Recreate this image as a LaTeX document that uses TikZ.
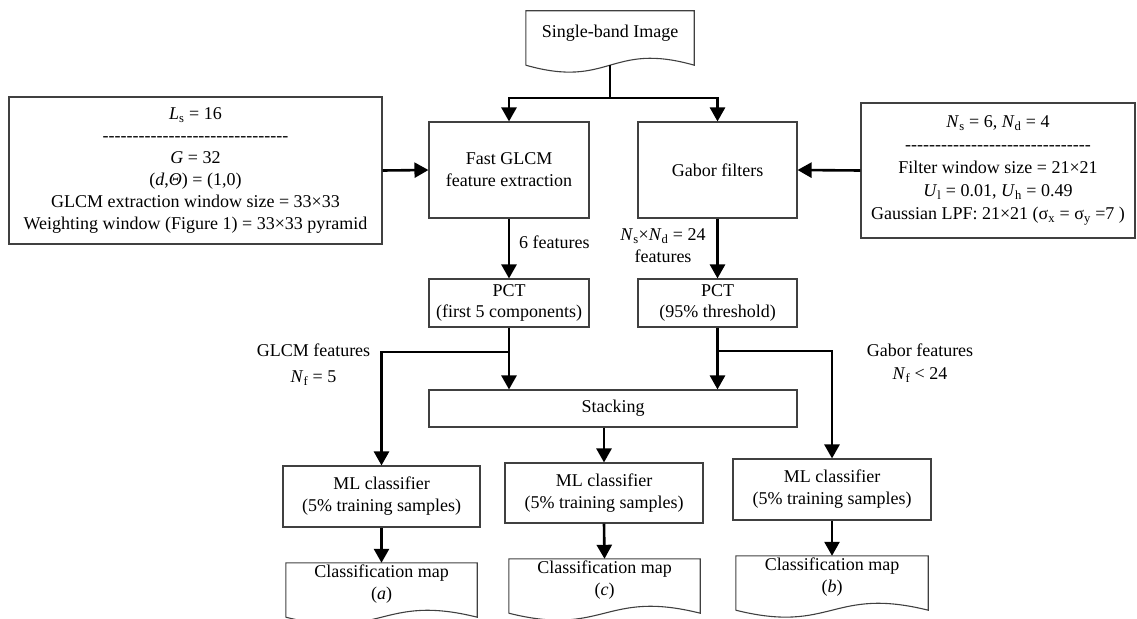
\documentclass[tikz,border=0pt]{standalone}
\usepackage{fontspec}
\setmainfont{Liberation Serif}
\usetikzlibrary{arrows.meta,calc}
\newcommand\hyf{-\kern0pt-\kern0pt-\kern0pt-\kern0pt-\kern0pt}
\newcommand\hyrow{\hyf\hyf\hyf\hyf\hyf\hyf-}
\newcommand\drawdoc[1]{\draw[boxline] (#1.south west) -- (#1.north west) -- (#1.north east) -- (#1.south east) .. controls ($(#1.south)+(0,-24)$) and ($(#1.south)+(0,24)$) .. (#1.south west);}
\begin{document}
\begin{tikzpicture}[x=1pt,y=-1pt,
  every node/.style={font=\fontsize{18}{22}\selectfont, inner sep=0pt},
  boxline/.style={draw=black!75, line width=1.1pt},
  box/.style={boxline, align=center},
  docn/.style={draw=none},
  arr/.style={line width=2.6pt, -{Triangle[width=15pt,length=14pt]}},
  conn/.style={line width=2.6pt},
  lbl/.style={align=center}]
\clip (0,0) rectangle (1137,618);

% top document
\node[docn, minimum width=168pt, minimum height=54pt] (img) at (610,38) {};
\node (imgtext) at ([yshift=5pt]img.center) {Single-band Image};
\drawdoc{img}

% processing boxes
\node[box, minimum width=160pt, minimum height=96pt] (glcm) at (509,170) {Fast GLCM\\feature extraction};
\node[box, minimum width=159pt, minimum height=96pt] (gabor) at (717.5,170) {Gabor filters};

\node[box, minimum width=373pt, minimum height=147pt] (lpar) at (195.5,170.5)
 {\textit{L}\textsubscript{s} = 16\\\hyrow\\\textit{G} = 32\\(\textit{d},\textit{Θ}) = (1,0)\\GLCM extraction window size = 33×33\\Weighting window (Figure 1) = 33×33 pyramid};
\node[box, minimum width=274pt, minimum height=135pt] (rpar) at (998,170.5)
 {\textit{N}\textsubscript{s} = 6, \textit{N}\textsubscript{d} = 4\\[1pt]\hyrow\\[1pt]Filter window size = 21×21\\[1pt]\textit{U}\textsubscript{l} = 0.01, \textit{U}\textsubscript{h} = 0.49\\[1pt]Gaussian LPF: 21×21 (σ\textsubscript{x} = σ\textsubscript{y} =7 )};

\node[box, minimum width=160pt, minimum height=48pt] (pctL) at (509,303) {PCT\\[-1pt](first 5 components)};
\node[box, minimum width=159pt, minimum height=48pt] (pctR) at (717.5,303) {PCT\\[-1pt](95\% threshold)};
\node[box, minimum width=368pt, minimum height=37pt] (stack) at (613,408.5) {Stacking};

\node[box, minimum width=197pt, minimum height=61pt] (mlL) at (381.5,496.5) {ML classifier\\(5\% training samples)};
\node[box, minimum width=198pt, minimum height=60pt] (mlC) at (604,493) {ML classifier\\(5\% training samples)};
\node[box, minimum width=198pt, minimum height=61pt] (mlR) at (832,489.5) {ML classifier\\(5\% training samples)};

% output documents
\node[docn, minimum width=191pt, minimum height=54pt] (mapL) at (381.5,590) {};
\node (mapLt) at ([yshift=6pt]mapL.center) [align=center] {Classification map\\(\textit{a})};
\drawdoc{mapL}
\node[docn, minimum width=191pt, minimum height=54pt] (mapC) at (604.5,586) {};
\node (mapCt) at ([yshift=6pt]mapC.center) [align=center] {Classification map\\(\textit{c})};
\drawdoc{mapC}
\node[docn, minimum width=192pt, minimum height=54pt] (mapR) at (832,583) {};
\node (mapRt) at ([yshift=6pt]mapR.center) [align=center] {Classification map\\(\textit{b})};
\drawdoc{mapR}

% labels
\node[anchor=west] (l6) at (519,242) {6 features};
\node[lbl] (lgab) at (663,246) {\textit{N}\textsubscript{s}×\textit{N}\textsubscript{d} = 24\\features};
\node[lbl] (lglcm) at (313.5,365) {GLCM features\\[4pt]\textit{N}\textsubscript{f} = 5};
\node[lbl] (lgabf) at (920,363) {Gabor features\\[1pt]\textit{N}\textsubscript{f} < 24};

% connectors
\coordinate (jTop) at (610,98);
\draw[conn] (img.south) -- (jTop);
\draw[arr] (jTop) -| (glcm.north);
\draw[arr] (jTop) -| (gabor.north);
\draw[arr] (lpar.east) -- (glcm.west);
\draw[arr] (rpar.west) -- (gabor.east);
\draw[arr] (glcm.south) -- (pctL.north);
\draw[arr] (gabor.south) -- (pctR.north);
\draw[arr] (pctL.south) -- (pctL.south |- stack.north);
\draw[arr] (pctR.south) -- (pctR.south |- stack.north);
\coordinate (jL) at (509,352);
\coordinate (jR) at (717.5,351);
\draw[arr] (jL) -| (mlL.north);
\draw[arr] (jR) -| (mlR.north);
\draw[arr] (mlC.north |- stack.south) -- (mlC.north);
\draw[arr] (mlL.south) -- (mapL.north);
\draw[arr] (mlC.south) -- (mapC.north);
\draw[arr] (mlR.south) -- (mapR.north);
\end{tikzpicture}
\end{document}
